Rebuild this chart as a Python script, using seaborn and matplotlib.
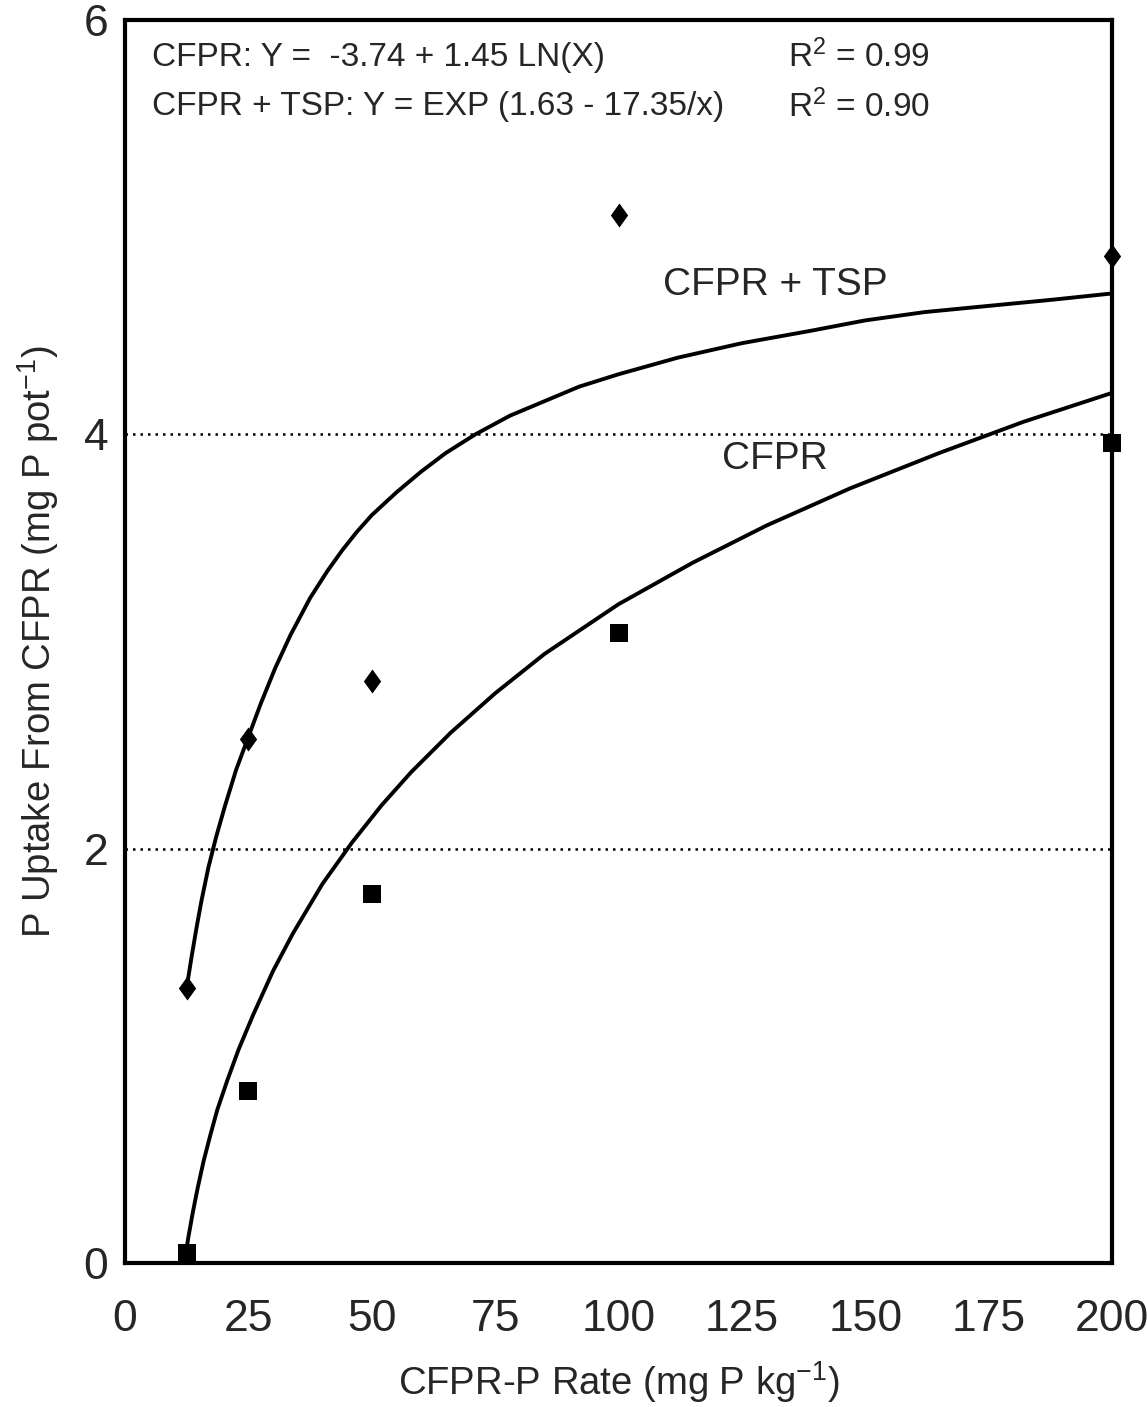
import numpy as np
import pandas as pd
import matplotlib
matplotlib.use('Agg')
import matplotlib.pyplot as plt
import seaborn as sns

sns.set_style('white')
plt.rcParams['font.family'] = ['Liberation Sans', 'DejaVu Sans']
plt.rcParams['mathtext.fontset'] = 'custom'
plt.rcParams['mathtext.rm'] = 'Liberation Sans'
plt.rcParams['mathtext.it'] = 'Liberation Sans:italic'
plt.rcParams['mathtext.bf'] = 'Liberation Sans:bold'

# measured uptake (mg P pot-1) at each CFPR-P rate
rate = [12.5, 25, 50, 100, 200]
uptake_tsp = [1.33, 2.53, 2.81, 5.06, 4.86]
uptake_cfpr = [0.05, 0.83, 1.78, 3.04, 3.96]

# fitted curves
fit_tsp_x = [12.5, 13.5, 14.5, 15.5, 16.9, 18.5, 20.3, 22.5, 25, 27.5, 30.4,
             33.5, 37.5, 41, 44, 47, 50, 55, 60, 65, 71, 78, 85, 92, 100,
             112, 125, 139, 150, 162, 175, 188, 200]
fit_tsp_y = [1.33, 1.48, 1.62, 1.75, 1.91, 2.06, 2.21, 2.38, 2.54, 2.70, 2.87,
             3.03, 3.21, 3.34, 3.44, 3.53, 3.61, 3.72, 3.82, 3.91, 4.00, 4.09,
             4.16, 4.23, 4.29, 4.37, 4.44, 4.50, 4.55, 4.59, 4.62, 4.65, 4.68]
fit_cfpr_x = [12.0, 12.8, 13.7, 14.7, 15.9, 17.2, 18.7, 20.7, 23, 26, 30, 34,
              40, 46, 52, 58, 66, 75, 85, 100, 115, 130, 147, 165, 182, 200]
fit_cfpr_y = [0.0, 0.12, 0.24, 0.36, 0.49, 0.61, 0.74, 0.88, 1.03, 1.20, 1.41,
              1.59, 1.83, 2.03, 2.21, 2.37, 2.56, 2.75, 2.94, 3.18, 3.38, 3.56,
              3.74, 3.91, 4.06, 4.20]

pts = pd.DataFrame({'rate': rate, 'tsp': uptake_tsp, 'cfpr': uptake_cfpr})
fit_tsp = pd.DataFrame({'x': fit_tsp_x, 'y': fit_tsp_y})
fit_cfpr = pd.DataFrame({'x': fit_cfpr_x, 'y': fit_cfpr_y})

fig = plt.figure(figsize=(11.47, 14.07), dpi=100)
ax = fig.add_axes([0.109, 0.1023, 0.8605, 0.8835])

# dotted reference lines
for yv in [2, 4]:
    ax.axhline(yv, color='black', lw=1.8, ls=(0, (1, 2)), zorder=1)

sns.lineplot(data=fit_tsp, x='x', y='y', sort=False, estimator=None,
             color='black', lw=2.8, ax=ax)
sns.lineplot(data=fit_cfpr, x='x', y='y', sort=False, estimator=None,
             color='black', lw=2.8, ax=ax)

diamond = [(0, 1), (0.72, 0), (0, -1), (-0.72, 0), (0, 1)]
sns.scatterplot(data=pts, x='rate', y='tsp', marker=diamond, s=300,
                color='black', edgecolor='black', linewidth=0, ax=ax,
                clip_on=False, zorder=5)
sns.scatterplot(data=pts, x='rate', y='cfpr', marker='s', s=150,
                color='black', edgecolor='black', linewidth=0, ax=ax,
                clip_on=False, zorder=5)

ax.set_xlim(0, 200)
ax.set_ylim(0, 6)
ax.set_xticks(range(0, 201, 25))
ax.set_yticks([0, 2, 4, 6])
ax.tick_params(axis='x', direction='inout', length=32, width=2.5,
               labelsize=32, pad=10, color='black')
ax.tick_params(axis='y', length=0, labelsize=32, pad=12)
for sp in ax.spines.values():
    sp.set_linewidth(3)
    sp.set_color('black')

ax.set_xlabel('CFPR-P Rate (mg P kg$^{-1}$)', fontsize=27.5, labelpad=14)
ax.set_ylabel('P Uptake From CFPR (mg P pot$^{-1}$)', fontsize=27.5, labelpad=16)

# fit equations
ax.text(5.5, 5.82, 'CFPR: Y =  -3.74 + 1.45 LN(X)', fontsize=24, va='center')
ax.text(5.5, 5.58, 'CFPR + TSP: Y = EXP (1.63 - 17.35/x)', fontsize=24, va='center')
ax.text(134.3, 5.82, 'R$^2$ = 0.99', fontsize=24, va='center')
ax.text(134.3, 5.58, 'R$^2$ = 0.90', fontsize=24, va='center')

# curve labels
ax.text(131.7, 4.72, 'CFPR + TSP', fontsize=28, ha='center', va='center')
ax.text(131.7, 3.88, 'CFPR', fontsize=28, ha='center', va='center')

fig.savefig('out.png', dpi=100)
